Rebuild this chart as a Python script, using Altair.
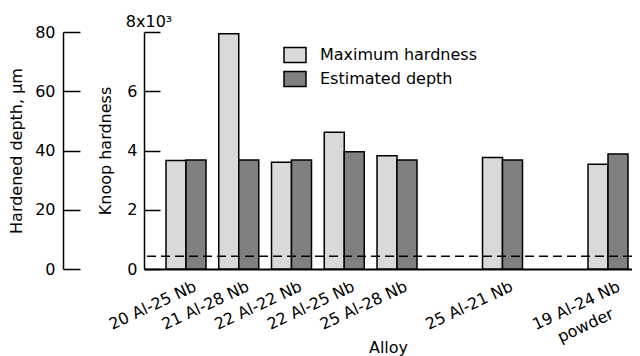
import altair as alt
import pandas as pd

# ---- data ----
alloys = ["20 Al-25 Nb", "21 Al-28 Nb", "22 Al-22 Nb", "22 Al-25 Nb",
          "25 Al-28 Nb", "25 Al-21 Nb", "19 Al-24 Nb powder"]
# slot order on the x axis (blank slots leave the gaps seen in the original)
x_slots = ["20 Al-25 Nb", "21 Al-28 Nb", "22 Al-22 Nb", "22 Al-25 Nb",
           "25 Al-28 Nb", " ", "25 Al-21 Nb", "  ", "19 Al-24 Nb powder"]
max_hardness = [3.66, 7.94, 3.60, 4.62, 3.82, 3.76, 3.54]   # Knoop, x10^3
est_depth = [36.8, 36.8, 36.8, 39.6, 36.8, 36.8, 38.8]      # micrometres
series = ["Maximum hardness", "Estimated depth"]
colors = ["#d9d9d9", "#808080"]
dashed_level = [4.3]          # micrometres (0.43 x10^3 Knoop)
knoop_ticks = [0, 2, 4, 6, 8]
depth_ticks = [0, 20, 40, 60, 80]

rows = []
for a, h, d in zip(alloys, max_hardness, est_depth):
    rows.append({"alloy": a, "series": series[0], "value": h})
    rows.append({"alloy": a, "series": series[1], "value": d})
df = pd.DataFrame(rows)

FONT = "DejaVu Sans"
two_line = "19 Al-24 Nb powder"
is_two = f"datum.value == '{two_line}'"
label_expr = f"{is_two} ? ['19 Al-24 Nb', 'powder'] : datum.label"

x_enc = alt.X(
    "alloy:N",
    scale=alt.Scale(domain=x_slots, paddingInner=0.242, paddingOuter=0.2466, align=0.846),
    axis=alt.Axis(title="Alloy", labelAngle=335, labelExpr=label_expr, ticks=False,
                  labelAlign={"condition": {"test": is_two, "value": "center"}, "value": "right"},
                  labelBaseline="top",
                  labelPadding={"condition": {"test": is_two, "value": 29}, "value": 9},
                  labelOffset={"condition": {"test": is_two, "value": -35}, "value": 6},
                  labelLineHeight=22, labelFontSize=16,
                  domainWidth=2, titleY=78, titleBaseline="middle"),
)
xoff_enc = alt.XOffset("series:N", scale=alt.Scale(domain=series, paddingInner=0, paddingOuter=0))

legend = alt.Legend(title=None, orient="none", legendX=139, legendY=11,
                    symbolType="M-1,-0.68H1V0.68H-1Z", symbolSize=484,
                    symbolStrokeColor="black", symbolStrokeWidth=1.5, symbolOpacity=1,
                    labelFont=FONT, labelFontSize=16, labelOffset=13,
                    rowPadding=1, padding=0)
color_enc = alt.Color("series:N", scale=alt.Scale(domain=series, range=colors), legend=legend)

hard = alt.Chart(df).transform_filter(
    alt.datum.series == series[0]
).mark_bar(stroke="black", strokeWidth=1.5, opacity=1).encode(
    x=x_enc, xOffset=xoff_enc, color=color_enc,
    y=alt.Y("value:Q", scale=alt.Scale(domain=[0, 8], nice=False),
            axis=alt.Axis(orient="left", values=knoop_ticks, title="Knoop hardness",
                          tickSize={"expr": "-16"}, labelPadding=23,
                          labelExpr="datum.value == 8 ? '' : datum.label",
                          titleX=-39, titleY=118.5, titleBaseline="middle")),
)

depth = alt.Chart(df).transform_filter(
    alt.datum.series == series[1]
).mark_bar(stroke="black", strokeWidth=1.5, opacity=1).encode(
    x=x_enc, xOffset=xoff_enc, color=color_enc,
    y=alt.Y("value:Q", scale=alt.Scale(domain=[0, 80], nice=False),
            axis=alt.Axis(orient="left", values=depth_ticks, title="Hardened depth, μm",
                          offset=81, tickSize={"expr": "-17"}, labelPadding=25,
                          titleX=-47, titleY=118.5, titleBaseline="middle")),
)

rule = alt.Chart(pd.DataFrame({"level": dashed_level})).mark_rule(
    color="black", strokeWidth=1.5, strokeDash=[9, 5]
).encode(y=alt.Y("level:Q", scale=alt.Scale(domain=[0, 80], nice=False), axis=None))

top_label = alt.Chart(pd.DataFrame({"v": [8], "t": ["8x10³"]})).mark_text(
    font=FONT, align="center", baseline="bottom", dy=-2, color="black"
).encode(y=alt.Y("v:Q", scale=alt.Scale(domain=[0, 8], nice=False), axis=None),
         x=alt.value(5), text="t:N", size=alt.value(16))

chart = alt.layer(hard, depth, rule, top_label).resolve_scale(
    y="independent"
).properties(
    width=488, height=237,
    background="white",
    autosize=alt.AutoSizeParams(type="none"),
    padding={"left": 136, "top": 24, "right": 0, "bottom": 87},
).configure_view(strokeWidth=0).configure_axis(
    grid=False, domainColor="black", domainWidth=1.5, tickColor="black", tickWidth=1.5,
    labelColor="black", titleColor="black", labelFont=FONT, titleFont=FONT,
    labelFontSize=16, titleFontSize=16, titleFontWeight="normal",
)

chart.save("out.html", embed_options={"renderer": "svg", "actions": False})
